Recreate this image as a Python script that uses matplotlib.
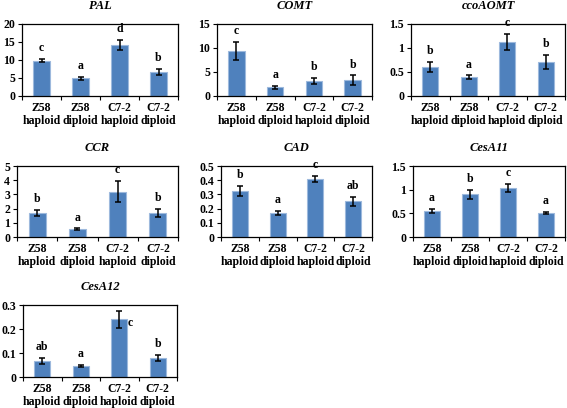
import numpy as np
import matplotlib
matplotlib.use("Agg")
import matplotlib.pyplot as plt

# --------------------
# Data
# --------------------
groups = ["Z58\nhaploid", "Z58\ndiploid", "C7-2\nhaploid", "C7-2\ndiploid"]

genes = ["PAL", "COMT", "ccoAOMT", "CCR", "CAD", "CesA11", "CesA12"]

pal_mean = [9.7, 4.8, 14.1, 6.5]
pal_err = [0.45, 0.4, 1.4, 0.9]
pal_sig = ["c", "a", "d", "b"]

comt_mean = [9.4, 1.7, 3.0, 3.2]
comt_err = [1.9, 0.3, 0.6, 1.0]
comt_sig = ["c", "a", "b", "b"]

ccoaomt_mean = [0.60, 0.38, 1.13, 0.70]
ccoaomt_err = [0.10, 0.04, 0.17, 0.15]
ccoaomt_sig = ["b", "a", "c", "b"]

ccr_mean = [1.68, 0.56, 3.2, 1.68]
ccr_err = [0.23, 0.04, 0.75, 0.27]
ccr_sig = ["b", "a", "c", "b"]

cad_mean = [0.325, 0.170, 0.410, 0.252]
cad_err = [0.033, 0.013, 0.020, 0.033]
cad_sig = ["b", "a", "c", "ab"]

cesa11_mean = [0.55, 0.90, 1.04, 0.51]
cesa11_err = [0.05, 0.095, 0.085, 0.02]
cesa11_sig = ["a", "b", "c", "a"]

cesa12_mean = [0.068, 0.046, 0.240, 0.080]
cesa12_err = [0.012, 0.003, 0.035, 0.012]
cesa12_sig = ["ab", "a", "c", "b"]

means = [pal_mean, comt_mean, ccoaomt_mean, ccr_mean, cad_mean, cesa11_mean, cesa12_mean]
errs = [pal_err, comt_err, ccoaomt_err, ccr_err, cad_err, cesa11_err, cesa12_err]
sigs = [pal_sig, comt_sig, ccoaomt_sig, ccr_sig, cad_sig, cesa11_sig, cesa12_sig]

y_max = [20, 15, 1.5, 5, 0.5, 1.5, 0.3]
y_step = [5, 5, 0.5, 1, 0.1, 0.5, 0.1]

# axes boxes in pixels: left, right, top, bottom
boxes = [
    (22, 178, 24, 95.5),
    (217, 372, 24, 95.5),
    (411, 565, 24, 95.5),
    (17, 178, 166, 237),
    (221, 372, 166, 237),
    (413, 565, 166, 237),
    (23, 177, 305, 377),
]

W, H = 567, 408
bar_color = "#4F81BD"
edge_color = "#9DB9DD"
font = ["Liberation Serif", "DejaVu Serif"]

fig = plt.figure(figsize=(W / 100, H / 100), dpi=100)


def fmt(v):
    if abs(v - round(v)) < 1e-9:
        return str(int(round(v)))
    return ("%g" % v)


for gene, m, e, s, ym, st, (l, r, t, b) in zip(genes, means, errs, sigs, y_max, y_step, boxes):
    ax = fig.add_axes([l / W, 1 - b / H, (r - l) / W, (b - t) / H])
    x = np.arange(len(groups))
    ax.bar(x, m, width=0.42, color=bar_color, edgecolor=edge_color, linewidth=0.8, zorder=2)
    ax.errorbar(x, m, yerr=e, fmt="none", ecolor="black", elinewidth=1.1,
                capsize=2.5, capthick=1.1, zorder=3)
    for xi, mi, ei, si in zip(x, m, e, s):
        top = mi + ei
        if top > ym * 0.88:
            # label would run past the frame: put it beside the bar
            ax.annotate(si, (xi, top), xytext=(8, -4), textcoords="offset points",
                        ha="center", va="top", fontsize=8.5, fontweight="bold",
                        family=font, annotation_clip=False)
        else:
            ax.annotate(si, (xi, top), xytext=(0, 3.5), textcoords="offset points",
                        ha="center", va="bottom", fontsize=8.5, fontweight="bold",
                        family=font)

    ax.set_xlim(-0.5, len(groups) - 0.5)
    ax.set_ylim(0, ym)
    ticks = np.arange(0, ym + st / 2, st)
    ax.set_yticks(ticks)
    ax.set_yticklabels([fmt(v) for v in ticks], fontsize=8.5, fontweight="bold", family=font)
    ax.set_xticks(x)
    ax.set_xticklabels(groups, fontsize=8.5, fontweight="bold", family=font, linespacing=1.1)
    ax.set_xticks(np.arange(-0.5, len(groups)), minor=True)
    ax.tick_params(axis="x", which="major", length=0, pad=4.5)
    ax.tick_params(axis="x", which="minor", length=3, width=0.8, direction="out")
    ax.tick_params(axis="y", length=3, width=0.8, direction="out", pad=2)
    for sp in ax.spines.values():
        sp.set_linewidth(0.9)
        sp.set_color("black")
    ax.set_title(gene, fontsize=9, fontweight="bold", fontstyle="italic", family=font, pad=11)

fig.savefig("out.png", dpi=100)
